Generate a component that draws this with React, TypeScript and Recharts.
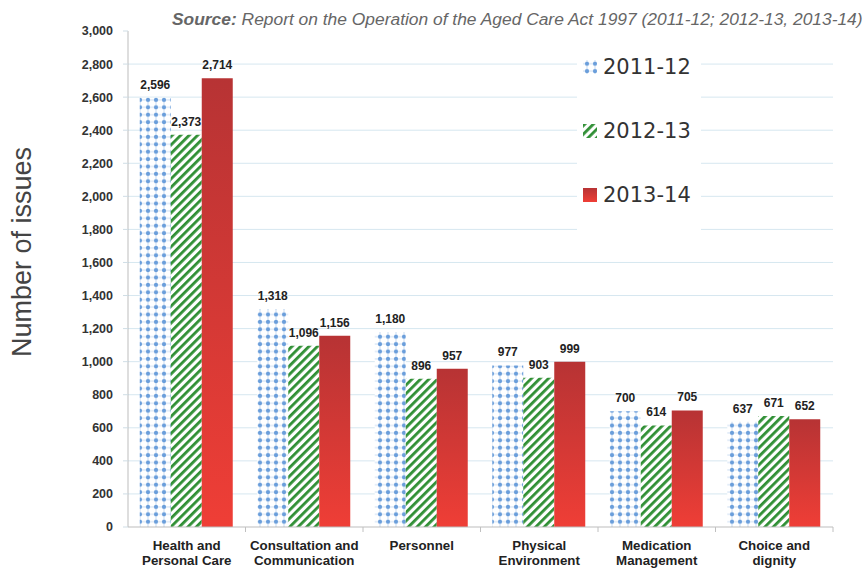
import React from "react";
import {
  BarChart,
  Bar,
  XAxis,
  YAxis,
  CartesianGrid,
  LabelList,
} from "recharts";

const categories = [
  "Health and\nPersonal Care",
  "Consultation and\nCommunication",
  "Personnel",
  "Physical\nEnvironment",
  "Medication\nManagement",
  "Choice and\ndignity",
];
const issues201112 = [2596, 1318, 1180, 977, 700, 637];
const issues201213 = [2373, 1096, 896, 903, 614, 671];
const issues201314 = [2714, 1156, 957, 999, 705, 652];
const yTicks = [0, 200, 400, 600, 800, 1000, 1200, 1400, 1600, 1800, 2000, 2200, 2400, 2600, 2800, 3000];
const seriesNames = ["2011-12", "2012-13", "2013-14"];

const data = categories.map((name, i) => ({
  name,
  a: issues201112[i],
  b: issues201213[i],
  c: issues201314[i],
}));

const SANS = "'Liberation Sans', Arial, sans-serif";
const fills = ["url(#dots)", "url(#stripes)", "url(#redGrad)"];

const fmt = (v: number) => v.toLocaleString("en-US");

function Defs() {
  return (
    <svg width={0} height={0} style={{ position: "absolute" }}>
      <defs>
        <pattern id="dots" width={8} height={7.4} patternUnits="userSpaceOnUse">
          <rect width={8} height={7.4} fill="#ffffff" />
          <path d="M4 0 V7.4 M0 3.7 H8" stroke="#c9dcf1" strokeWidth={1} />
          <circle cx={4} cy={3.7} r={2.1} fill="#6a9edb" />
        </pattern>
        <pattern
          id="stripes"
          width={6}
          height={6}
          patternUnits="userSpaceOnUse"
          patternTransform="rotate(45)"
        >
          <rect width={6} height={6} fill="#ffffff" />
          <rect width={2.8} height={6} fill="#2f8f34" />
        </pattern>
        <linearGradient id="redGrad" x1="0" y1="0" x2="0" y2="1">
          <stop offset="0%" stopColor="#b73334" />
          <stop offset="100%" stopColor="#ef3e36" />
        </linearGradient>
      </defs>
    </svg>
  );
}

function XTick(props: any) {
  const { x, y, payload } = props;
  const lines = String(payload.value).split("\n");
  const half = payload.offset || 58.75;
  return (
    <g>
      <line x1={x + half} x2={x + half} y1={y - 5} y2={y} stroke="#c0c0c0" />
      <text
        x={x}
        y={y}
        textAnchor="middle"
        fontFamily={SANS}
        fontWeight="bold"
        fontSize={13.3}
        fill="#222"
      >
        {lines.map((l, i) => (
          <tspan key={i} x={x} dy={i === 0 ? 17.5 : 15.5}>
            {l}
          </tspan>
        ))}
      </text>
    </g>
  );
}

function LegendBox() {
  return (
    <div
      style={{
        position: "absolute",
        left: 577,
        top: 35,
        background: "#fff",
        padding: "0 0 8px 6px",
        width: 118,
      }}
    >
      {seriesNames.map((n, i) => (
        <div
          key={n}
          style={{
            display: "flex",
            alignItems: "center",
            height: 64,
            fontFamily: "'DejaVu Sans', 'Liberation Sans', sans-serif",
            fontSize: 21,
            color: "#333",
          }}
        >
          <svg width={14} height={14} style={{ marginRight: 6 }}>
            <rect width={14} height={14} fill={fills[i]} />
          </svg>
          {n}
        </div>
      ))}
    </div>
  );
}

export default function App() {
  return (
    <div style={{ position: "absolute", left: 0, top: 0, width: 865, height: 570, background: "#fff", overflow: "hidden" }}>
      <Defs />
      <div
        style={{
          position: "absolute",
          left: 172,
          top: 9,
          whiteSpace: "nowrap",
          fontFamily: SANS,
          fontStyle: "italic",
          fontSize: 17.4,
          color: "#666",
        }}
      >
        <b>Source:</b> Report on the Operation of the Aged Care Act 1997 (2011-12; 2012-13, 2013-14)
      </div>
      <BarChart
        width={865}
        height={570}
        data={data}
        margin={{ top: 31, right: 32, left: 0, bottom: 0 }}
        barCategoryGap="10%"
        barGap={0}
      >
        <CartesianGrid
          vertical={false}
          stroke="#d6e7f0"
          horizontalValues={yTicks.filter((t) => t > 0 && t < 3000)}
        />
        <XAxis
          dataKey="name"
          height={43}
          interval={0}
          tick={<XTick />}
          tickLine={false}
          tickSize={5}
          tickMargin={0}
          axisLine={{ stroke: "#bdbdbd" }}
        />
        <YAxis
          width={128}
          domain={[0, 3000]}
          ticks={yTicks}
          interval={0}
          tickFormatter={fmt}
          tickSize={5}
          tickMargin={10}
          tickLine={{ stroke: "#cfdde5" }}
          axisLine={{ stroke: "#bdbdbd" }}
          tick={{ fontFamily: SANS, fontWeight: "bold", fontSize: 12.5, fill: "#333" }}
          label={{
            content: () => (
              <text
                x={22}
                y={252}
                transform="rotate(-90 22 252)"
                textAnchor="middle"
                dominantBaseline="central"
                fontFamily={SANS}
                fontSize={27}
                fill="#444"
              >
                Number of issues
              </text>
            ),
          }}
        />
        {["a", "b", "c"].map((k, i) => (
          <Bar key={k} dataKey={k} name={seriesNames[i]} fill={fills[i]} isAnimationActive={false}>
            <LabelList
              dataKey={k}
              position="top"
              offset={9}
              formatter={(v: any) => fmt(Number(v))}
              style={{ fontFamily: SANS, fontWeight: "bold", fontSize: 12, fill: "#222" }}
            />
          </Bar>
        ))}
      </BarChart>
      <LegendBox />
    </div>
  );
}
